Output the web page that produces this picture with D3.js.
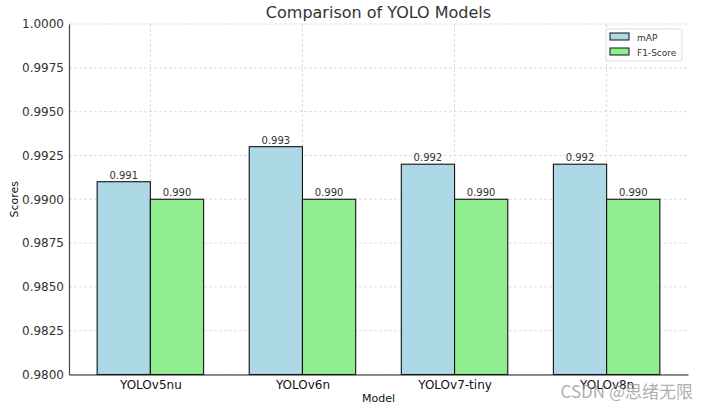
<!DOCTYPE html>
<html><head><meta charset="utf-8">
<script src="https://cdn.jsdelivr.net/npm/d3@7"></script>
<style>body{margin:0;background:#fff}svg{display:block;font-family:"DejaVu Sans",sans-serif}</style>
</head><body><svg id="c" width="709" height="410"></svg>
<script>
const models = ["YOLOv5nu", "YOLOv6n", "YOLOv7-tiny", "YOLOv8n"];
const mapValues = [0.991, 0.993, 0.992, 0.992];
const f1Values = [0.990, 0.990, 0.990, 0.990];
const seriesNames = ["mAP", "F1-Score"];
const seriesColors = ["#add8e6", "#90ee90"];
const yTicks = [0.98, 0.9825, 0.985, 0.9875, 0.99, 0.9925, 0.995, 0.9975, 1.0];

const svg = d3.select("#c");
const L = 69, R = 688, T = 24, B = 374.5;
const barW = 0.35;
const x = d3.scaleLinear().domain([-0.535, 3.535]).range([L, R]);
const y = d3.scaleLinear().domain([0.98, 1.0]).range([B, T]);
const txt = "#333";

// grid
const g = svg.append("g");
g.selectAll("line.h").data(yTicks).join("line")
  .attr("x1", L).attr("x2", R).attr("y1", d => y(d)).attr("y2", d => y(d))
  .attr("stroke", "#d6d6d6").attr("stroke-width", 0.8).attr("stroke-dasharray", "3,2");
g.selectAll("line.v").data(models).join("line")
  .attr("x1", (d, i) => x(i)).attr("x2", (d, i) => x(i)).attr("y1", T).attr("y2", B)
  .attr("stroke", "#d6d6d6").attr("stroke-width", 0.8).attr("stroke-dasharray", "3,2");

// bars
const series = [mapValues, f1Values];
series.forEach((vals, s) => {
  const off = s === 0 ? -barW : 0;
  svg.append("g").selectAll("rect").data(vals).join("rect")
    .attr("x", (d, i) => x(i + off)).attr("width", x(barW) - x(0))
    .attr("y", d => y(d)).attr("height", d => B - y(d))
    .attr("fill", seriesColors[s]).attr("stroke", "#111").attr("stroke-width", 1.1);
  svg.append("g").selectAll("text").data(vals).join("text")
    .attr("x", (d, i) => x(i + off + barW / 2)).attr("y", d => y(d) - 3)
    .attr("text-anchor", "middle").attr("font-size", 10).attr("fill", txt)
    .text(d => d3.format(".3f")(d));
});

// axes
const yAxis = d3.axisLeft(y).tickValues(yTicks).tickFormat(d3.format(".4f")).tickSize(0).tickPadding(5);
const ya = svg.append("g").attr("transform", `translate(${L},0)`).call(yAxis);
ya.select(".domain").attr("stroke", "#444").attr("stroke-width", 1.2);
ya.selectAll("text").attr("font-size", 12).attr("fill", txt).attr("font-family", "DejaVu Sans");

const xAxis = d3.axisBottom(x).tickValues([0, 1, 2, 3]).tickFormat(i => models[i]).tickSize(0).tickPadding(6);
const xa = svg.append("g").attr("transform", `translate(0,${B})`).call(xAxis);
xa.select(".domain").attr("stroke", "#222").attr("stroke-width", 1.2);
xa.selectAll("text").attr("font-size", 12).attr("fill", "#111").attr("font-family", "DejaVu Sans");

// titles
svg.append("text").attr("x", (L + R) / 2).attr("y", 18).attr("text-anchor", "middle")
  .attr("font-size", 16).attr("fill", txt).text("Comparison of YOLO Models");
svg.append("text").attr("x", (L + R) / 2).attr("y", 402).attr("text-anchor", "middle")
  .attr("font-size", 11).attr("fill", "#111").text("Model");
svg.append("text").attr("transform", `translate(18,${(T + B) / 2}) rotate(-90)`).attr("text-anchor", "middle")
  .attr("font-size", 11).attr("fill", "#111").text("Scores");

// legend
const lg = svg.append("g").attr("transform", "translate(606,29)");
lg.append("rect").attr("width", 76).attr("height", 32).attr("fill", "#fff").attr("fill-opacity", 0.8)
  .attr("stroke", "#ddd").attr("rx", 2);
seriesNames.forEach((n, i) => {
  lg.append("rect").attr("x", 4).attr("y", 4 + i * 15).attr("width", 19).attr("height", 7)
    .attr("fill", seriesColors[i]).attr("stroke", "#111");
  lg.append("text").attr("x", 31).attr("y", 11.5 + i * 15).attr("font-size", 9).attr("fill", txt).text(n);
});

// watermark (overlaps the last tick label in the reference too)
svg.append("text").attr("x", 693).attr("y", 398).attr("text-anchor", "end")
  .attr("font-family", "'Noto Sans CJK SC', sans-serif").attr("font-size", 17).attr("fill", "#999").attr("fill-opacity", 0.8)
  .text("CSDN @思绪无限");
</script></body></html>
